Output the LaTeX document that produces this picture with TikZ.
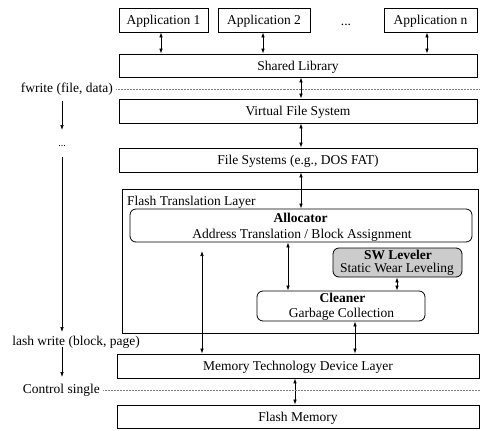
\documentclass[tikz,border=0pt]{standalone}
\usepackage{fontspec}
\setmainfont{Liberation Serif}
\usetikzlibrary{arrows.meta}

\begin{document}
\begin{tikzpicture}[x=1pt,y=-1pt,
  every node/.style={font=\fontsize{13.5}{16}\selectfont, inner sep=0pt},
  layerbox/.style={draw, line width=0.8pt, text height=9pt, text depth=0pt},
  roundbox/.style={draw, line width=0.8pt, rounded corners=6pt},
  ftlbox/.style={draw, line width=0.8pt},
  biarrow/.style={{Latex[length=5pt,width=3.6pt]}-{Latex[length=5pt,width=3.6pt]}, line width=0.7pt},
  downarrow/.style={-{Latex[length=5pt,width=3.6pt]}, line width=0.7pt},
  sepline/.style={gray, line width=0.5pt, dash pattern=on 0.6pt off 0.9pt},
]
\useasboundingbox (0,0) rectangle (480,431);

% applications
\node[layerbox, minimum width=89pt, minimum height=24pt] (app1) at (163.5,20) {Application 1};
\node[layerbox, minimum width=92pt, minimum height=24pt] (app2) at (264,20) {Application 2};
\node[anchor=base] (appdots) at (346,25) {...};
\node[layerbox, minimum width=93pt, minimum height=24pt] (appn) at (430.5,20) {Application n};

% software layers
\node[layerbox, minimum width=358pt, minimum height=23pt] (shlib) at (298,65.5) {Shared Library};
\node[layerbox, minimum width=358pt, minimum height=24pt] (vfs) at (298,111) {Virtual File System};
\node[layerbox, minimum width=358pt, minimum height=24pt] (fs) at (298,160) {File Systems (e.g., DOS FAT)};

% flash translation layer
\node[ftlbox, minimum width=356pt, minimum height=144pt] (ftl) at (300,261) {};
\node[anchor=base west] (ftltitle) at (127,205) {Flash Translation Layer};

\node[roundbox, minimum width=342pt, minimum height=33pt] (alloc) at (301,225.5) {};
\node[anchor=base] (allocA) at (300.5,222) {\bfseries Allocator};
\node[anchor=base] (allocB) at (302,238) {Address Translation / Block Assignment};

\node[roundbox, fill=gray!40, minimum width=129pt, minimum height=29pt] (swl) at (397.5,262.5) {};
\node[anchor=base] (swlA) at (398,259.5) {\bfseries SW Leveler};
\node[anchor=base] (swlB) at (397,272) {Static Wear Leveling};

\node[roundbox, minimum width=168pt, minimum height=30pt] (clean) at (341,306) {};
\node[anchor=base] (cleanA) at (342.5,302) {\bfseries Cleaner};
\node[anchor=base] (cleanB) at (341.5,317.5) {Garbage Collection};

% device layers
\node[layerbox, minimum width=362pt, minimum height=24pt] (mtd) at (298,366) {Memory Technology Device Layer};
\node[layerbox, minimum width=362pt, minimum height=23pt] (flash) at (298,416.5) {Flash Memory};

% connector columns
\coordinate (xa) at (161,0);
\coordinate (xb) at (263,0);
\coordinate (xn) at (427,0);
\coordinate (xs) at (301,0);
\coordinate (xc) at (288,0);
\coordinate (xw) at (397,0);
\coordinate (xm) at (355,0);
\coordinate (xf) at (295,0);
\coordinate (xd) at (202,0);
\coordinate (mtdup) at (202,251);

\draw[biarrow] (app1.south -| xa) -- (shlib.north -| xa);
\draw[biarrow] (app2.south -| xb) -- (shlib.north -| xb);
\draw[biarrow] (appn.south -| xn) -- (shlib.north -| xn);
\draw[biarrow] (shlib.south -| xs) -- (vfs.north -| xs);
\draw[biarrow] (vfs.south -| xs) -- (fs.north -| xs);
\draw[biarrow] (fs.south -| xs) -- (alloc.north -| xs);
\draw[biarrow] (alloc.south -| xc) -- (clean.north -| xc);
\draw[biarrow] (swl.south -| xw) -- (clean.north -| xw);
\draw[biarrow] (clean.south -| xm) -- (mtd.north -| xm);
\draw[biarrow] (mtdup) -- (mtd.north -| xd);
\draw[biarrow] (mtd.south -| xf) -- (flash.north -| xf);

% call levels on the left
\node[anchor=east] (fwrite) at (113,89) {fwrite (file, data)};
\coordinate (fwend) at (480,89);
\draw[sepline] (fwrite.east) ++(3,0) -- (fwend);

\node[anchor=base east] (flwrite) at (140,345) {lash write (block, page)};
\node[anchor=east] (ctrl) at (100,390) {Control single};
\coordinate (ctrlend) at (480,390);
\draw[sepline] (ctrl.east) ++(3,0) -- (ctrlend);

\coordinate (l1a) at (62,101);
\coordinate (l1b) at (62,130);
\node[anchor=base, font=\fontsize{10}{12}\selectfont] (ldots) at (62,146) {...};
\coordinate (l2a) at (62,157);
\coordinate (l2b) at (62,332);
\coordinate (l3a) at (62,347);
\coordinate (l3b) at (62,377);
\draw[downarrow] (l1a) -- (l1b);
\draw[downarrow] (l2a) -- (l2b);
\draw[downarrow] (l3a) -- (l3b);
\end{tikzpicture}
\end{document}
